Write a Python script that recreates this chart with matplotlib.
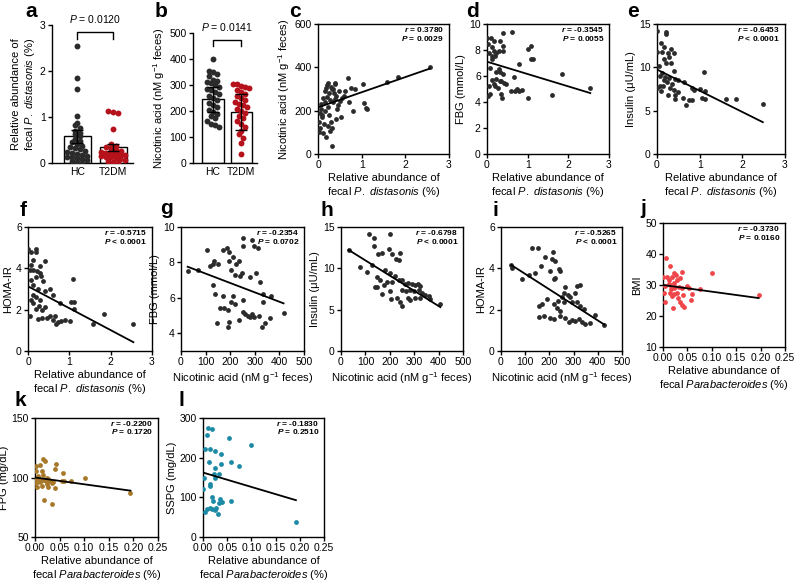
import numpy as np
import matplotlib
matplotlib.use('Agg')
import matplotlib.pyplot as plt

plt.rcParams['font.family'] = 'Liberation Sans'
plt.rcParams['mathtext.fontset'] = 'custom'
plt.rcParams['mathtext.rm'] = 'Liberation Sans'
plt.rcParams['mathtext.it'] = 'Liberation Sans:italic'
plt.rcParams['mathtext.bf'] = 'Liberation Sans:bold'
plt.rcParams['mathtext.bfit'] = 'Liberation Sans:italic:bold'

# ---------------- data ----------------
groups = ['HC', 'T2DM']

# a: relative abundance of P. distasonis (%)
a_hc = [2.55, 1.85, 1.60, 1.03, 0.87, 0.82, 0.76, 0.70, 0.66, 0.62, 0.58, 0.52,
        0.48, 0.45, 0.42, 0.38, 0.35, 0.32, 0.30, 0.27, 0.25, 0.22, 0.20, 0.18,
        0.16, 0.14, 0.12, 0.10, 0.08, 0.06, 0.04, 0.02, 0.01]
a_t2dm = [1.12, 1.10, 1.08, 0.75, 0.42, 0.38, 0.34, 0.30, 0.28, 0.26, 0.24, 0.22,
          0.21, 0.20, 0.19, 0.18, 0.17, 0.15, 0.14, 0.12, 0.10, 0.08, 0.06, 0.04,
          0.02, 0.01]
a_mean = [0.58, 0.34]
a_err = [0.14, 0.08]
a_p = '0.0120'

# b: nicotinic acid (nM g-1 feces)
b_hc = [400, 355, 350, 342, 335, 320, 316, 312, 306, 300, 292, 285, 280, 272,
        265, 258, 250, 242, 232, 225, 215, 205, 198, 190, 182, 172, 160, 150,
        145, 140]
b_t2dm = [305, 302, 298, 292, 288, 280, 272, 265, 258, 250, 242, 235, 228, 222,
          215, 208, 200, 192, 182, 172, 160, 150, 138, 125, 110, 95, 78, 35]
b_mean = [245, 197]
b_err = [47, 70]
b_p = '0.0141'

# c: nicotinic acid vs P. distasonis
c_pts = [(2.56, 403), (1.84, 354), (1.59, 334), (1.02, 322), (0.68, 352), (0.76, 303),
         (0.85, 300), (0.60, 269), (0.81, 200), (1.05, 235), (1.09, 211), (1.13, 208),
         (0.53, 169), (0.31, 38), (0.27, 108), (0.19, 77), (0.02, 150), (0.05, 120),
         (0.08, 210), (0.10, 180), (0.12, 260), (0.15, 290), (0.18, 305), (0.20, 320),
         (0.22, 330), (0.25, 280), (0.28, 250), (0.30, 310), (0.33, 300), (0.35, 240),
         (0.38, 330), (0.40, 325), (0.42, 270), (0.45, 225), (0.48, 290), (0.50, 245),
         (0.03, 100), (0.06, 230), (0.09, 170), (0.14, 140), (0.17, 200), (0.21, 265),
         (0.24, 215), (0.26, 180), (0.29, 150), (0.32, 120), (0.36, 280), (0.39, 255),
         (0.44, 210), (0.55, 260), (0.62, 290), (0.70, 240), (0.04, 190), (0.11, 95),
         (0.16, 240), (0.23, 130), (0.34, 300), (0.41, 160)]
c_fit = (215, 70)
c_stats = ('r = 0.3780', 'P = 0.0029')

# d: FBG vs P. distasonis
d_pts = [(0.62, 9.36), (0.39, 9.28), (0.00, 8.92), (0.09, 8.92), (0.16, 8.72), (0.31, 8.67),
         (0.02, 8.5), (0.13, 8.2), (0.39, 8.33), (1.02, 8.08), (1.09, 8.33), (0.18, 7.95),
         (0.23, 7.8), (0.29, 7.9), (0.39, 7.95), (0.04, 7.8), (0.12, 7.55), (0.20, 7.55),
         (1.12, 7.3), (1.08, 7.3), (0.13, 7.3), (0.78, 6.9), (0.08, 6.65), (0.29, 6.55),
         (0.23, 6.3), (0.31, 6.3), (0.39, 6.15), (0.66, 5.95), (1.85, 6.15), (0.12, 5.7),
         (0.23, 5.75), (0.31, 5.65), (0.35, 5.6), (0.41, 5.5), (0.47, 5.4), (0.16, 5.4),
         (0.04, 5.25), (0.20, 5.2), (0.27, 5.1), (2.54, 5.1), (0.59, 4.87), (0.70, 4.82),
         (0.78, 4.82), (0.86, 4.9), (0.74, 5.0), (0.35, 4.6), (0.08, 4.6), (1.60, 4.54),
         (1.02, 4.3), (0.37, 4.3), (0.02, 4.5)]
d_fit = (7.1, -0.95)
d_stats = ('r = -0.3545', 'P = 0.0055')

# e: insulin vs P. distasonis
e_pts = [(0.00, 14.2), (0.22, 14.1), (0.22, 13.8), (0.09, 12.8), (0.16, 12.3), (0.33, 12.1),
         (0.41, 11.7), (0.00, 11.8), (0.12, 11.8), (0.25, 11.6), (0.29, 11.2), (0.16, 11.0),
         (0.22, 10.5), (0.33, 10.5), (0.04, 10.2), (0.39, 9.6), (0.12, 9.3), (1.09, 9.5),
         (0.08, 9.0), (0.19, 8.9), (0.29, 8.8), (0.43, 8.65), (0.16, 8.5), (0.23, 8.3),
         (0.35, 8.1), (0.64, 8.3), (0.06, 7.9), (0.14, 7.8), (0.31, 7.6), (0.00, 7.6),
         (0.81, 7.6), (0.87, 7.4), (1.01, 7.5), (1.12, 7.3), (0.39, 7.4), (0.50, 7.2),
         (0.25, 6.85), (0.43, 6.85), (0.60, 6.5), (1.05, 6.5), (1.12, 6.3), (1.61, 6.35),
         (1.86, 6.4), (0.74, 6.2), (0.43, 6.3), (0.81, 6.2), (0.68, 5.6), (2.48, 5.8),
         (0.09, 7.3), (0.50, 8.5)]
e_fit = (9.75, -2.45)
e_stats = ('r = -0.6453', 'P < 0.0001')

# f: HOMA-IR vs P. distasonis
f_pts = [(0.00, 4.93), (0.20, 4.93), (0.20, 4.77), (0.08, 4.77), (0.41, 4.34), (0.12, 4.42),
         (0.30, 4.1), (0.04, 3.94), (0.12, 3.9), (0.22, 3.85), (0.28, 3.77), (0.19, 3.6),
         (0.32, 3.65), (0.08, 3.45), (1.08, 3.5), (0.12, 3.2), (0.24, 3.0), (0.41, 2.89),
         (0.61, 2.73), (0.12, 2.73), (0.20, 2.6), (0.08, 2.48), (0.28, 2.48), (0.12, 2.32),
         (1.05, 2.35), (1.11, 2.37), (0.77, 2.32), (0.27, 2.16), (0.41, 2.13), (0.34, 2.0),
         (0.20, 2.03), (1.11, 2.03), (0.04, 1.68), (0.23, 1.55), (0.35, 1.6), (0.45, 1.6),
         (0.54, 1.68), (0.65, 1.71), (0.61, 1.48), (0.73, 1.39), (0.67, 1.32), (0.81, 1.44),
         (0.89, 1.48), (1.01, 1.44), (1.84, 1.79), (1.58, 1.32), (2.55, 1.32), (0.08, 4.18),
         (0.36, 3.37), (0.53, 3.0)]
f_fit = (3.13, -1.06)
f_stats = ('r = -0.5715', 'P < 0.0001')

# g: FBG vs nicotinic acid
g_pts = [(27, 7.5), (70, 7.6), (105, 8.7), (119, 7.8), (129, 7.9), (136, 8.1), (150, 7.9),
         (169, 8.7), (187, 8.8), (197, 8.6), (211, 8.3), (250, 9.4), (287, 9.25), (254, 8.9),
         (296, 8.9), (315, 8.8), (197, 8.1), (225, 7.9), (235, 8.1), (204, 7.6), (218, 7.3),
         (248, 7.4), (240, 7.25), (282, 7.2), (303, 7.4), (320, 6.9), (129, 6.7), (140, 6.2),
         (169, 6.1), (211, 6.1), (254, 5.9), (332, 6.2), (367, 6.1), (332, 5.75), (159, 5.45),
         (176, 5.4), (190, 5.3), (204, 5.75), (218, 5.65), (254, 5.2), (261, 5.1), (272, 5.0),
         (282, 4.9), (289, 5.1), (296, 4.9), (318, 5.0), (148, 4.6), (197, 4.65), (235, 4.75),
         (190, 4.35), (329, 4.35), (343, 4.6), (360, 4.85), (417, 5.15)]
g_fit = (7.9, -0.0053)
g_stats = ('r = -0.2354', 'P = 0.0702')

# h: insulin vs nicotinic acid
h_pts = [(31, 12.2), (113, 14.2), (137, 13.7), (199, 14.1), (134, 12.7), (195, 12.3),
         (77, 10.2), (107, 9.5), (127, 10.4), (150, 11.7), (167, 11.8), (209, 11.7),
         (227, 11.1), (236, 11.05), (240, 11.85), (182, 9.8), (202, 9.4), (223, 9.1),
         (236, 8.6), (148, 9.0), (161, 8.6), (141, 7.8), (148, 7.75), (175, 8.0), (188, 8.3),
         (209, 8.4), (250, 8.6), (264, 8.15), (273, 8.2), (291, 8.15), (305, 8.0), (314, 8.15),
         (322, 7.9), (250, 7.4), (268, 7.2), (281, 7.4), (298, 7.2), (318, 7.4), (332, 7.0),
         (346, 6.8), (359, 6.7), (168, 6.9), (202, 7.2), (205, 6.3), (230, 6.4), (243, 5.9),
         (250, 5.5), (273, 6.4), (284, 6.2), (305, 6.4), (325, 6.4), (366, 6.3), (407, 5.7)]
h_fit = (12.8, -0.0184)
h_stats = ('r = -0.6798', 'P < 0.0001')

# i: HOMA-IR vs nicotinic acid
i_pts = [(43, 4.16), (45, 4.03), (87, 3.5), (114, 3.66), (142, 3.76), (128, 4.96), (152, 4.96),
         (165, 4.11), (183, 4.56), (215, 4.78), (211, 4.43), (225, 4.35), (204, 3.87), (238, 3.98),
         (245, 3.87), (225, 3.55), (220, 3.47), (266, 3.12), (314, 3.15), (325, 3.18), (259, 2.8),
         (276, 2.7), (287, 2.6), (307, 2.8), (252, 2.6), (190, 2.51), (156, 2.19), (169, 2.27),
         (218, 2.27), (234, 2.43), (262, 2.38), (293, 2.38), (314, 2.38), (328, 2.19), (342, 2.03),
         (156, 1.63), (176, 1.68), (204, 1.58), (218, 1.55), (245, 1.71), (266, 1.58), (280, 1.39),
         (293, 1.52), (307, 1.47), (321, 1.55), (335, 1.39), (348, 1.31), (369, 1.36), (390, 1.74),
         (427, 1.28), (245, 1.95), (231, 2.06)]
i_fit = (4.48, -0.0075)
i_stats = ('r = -0.5265', 'P < 0.0001')

# j: BMI vs Parabacteroides
j_pts = [(0.007, 38.6), (0.015, 36.0), (0.023, 34.0), (0.001, 32.7), (0.008, 32.7), (0.018, 32.5),
         (0.027, 33.2), (0.039, 34.3), (0.100, 34.0), (0.005, 29.7), (0.012, 30.3), (0.022, 30.8),
         (0.029, 31.6), (0.035, 32.2), (0.016, 28.6), (0.025, 29.2), (0.032, 29.5), (0.014, 27.5),
         (0.022, 27.1), (0.029, 27.5), (0.041, 26.8), (0.054, 28.9), (0.075, 28.6), (0.059, 27.1),
         (0.003, 27.5), (0.019, 26.4), (0.005, 24.6), (0.034, 24.6), (0.039, 23.7), (0.043, 23.0),
         (0.020, 22.6), (0.057, 25.1), (0.196, 26.8), (0.012, 31.6), (0.022, 28.9), (0.039, 28.9),
         (0.049, 29.7), (0.030, 25.7), (0.015, 30.0)]
j_fit = (30.0, -21.5)
j_stats = ('r = -0.3730', 'P = 0.0160')

# k: FPG vs Parabacteroides
k_pts = [(0.016, 115.3), (0.020, 113.9), (0.003, 109.7), (0.011, 110.6), (0.043, 111.7),
         (0.041, 107.5), (0.002, 105.6), (0.014, 105.6), (0.057, 103.6), (0.007, 101.4),
         (0.017, 102.2), (0.024, 100.0), (0.009, 98.6), (0.016, 97.8), (0.027, 98.6),
         (0.030, 96.7), (0.034, 95.0), (0.024, 94.4), (0.002, 95.0), (0.005, 92.2),
         (0.014, 93.1), (0.027, 92.2), (0.036, 95.8), (0.054, 96.7), (0.059, 96.7),
         (0.074, 97.2), (0.101, 100.0), (0.041, 91.1), (0.018, 81.1), (0.034, 77.8),
         (0.194, 86.7), (0.020, 97.8), (0.003, 98.6), (0.010, 95.8), (0.022, 96.7)]
k_fit = (100.0, -57.0)
k_stats = ('r = -0.2200', 'P = 0.1720')

# l: SSPG vs Parabacteroides
l_pts = [(0.010, 275), (0.019, 273), (0.008, 257), (0.053, 250), (0.099, 233), (0.005, 221),
         (0.014, 223), (0.025, 217), (0.037, 210), (0.012, 190), (0.037, 183), (0.058, 188),
         (0.074, 178), (0.025, 173), (0.034, 160), (0.022, 158), (0.003, 150), (0.025, 148),
         (0.014, 133), (0.015, 129), (0.019, 102), (0.021, 92), (0.036, 96), (0.039, 89),
         (0.034, 85), (0.058, 92), (0.008, 71), (0.014, 73), (0.019, 71), (0.025, 67),
         (0.032, 58), (0.027, 73), (0.192, 39), (0.005, 63), (0.001, 121)]
l_fit = (162.5, -363.0)
l_stats = ('r = -0.1830', 'P = 0.2510')

# ---------------- style ----------------
W, H = 800, 584
BLACK = '#2b2b2b'
RED = '#b5121b'
J_COLOR = '#f0464a'
K_COLOR = '#a8782a'
L_COLOR = '#1c8aa5'

XL_PD = 'Relative abundance of\nfecal $\\mathit{P.\\ distasonis}$ (%)'
XL_NA = 'Nicotinic acid (nM g$^{-1}$ feces)'
XL_PB = 'Relative abundance of\nfecal $\\mathit{Parabacteroides}$ (%)'

fig = plt.figure(figsize=(W / 100, H / 100), dpi=100)


def px_axes(left, top, right, bottom):
    return fig.add_axes([left / W, 1 - bottom / H, (right - left) / W, (bottom - top) / H])


def style_axes(ax, box=True):
    for side in ['left', 'bottom', 'top', 'right']:
        ax.spines[side].set_linewidth(1.0)
        ax.spines[side].set_color('black')
    if not box:
        ax.spines['top'].set_visible(False)
        ax.spines['right'].set_visible(False)
    ax.tick_params(direction='out', length=3, width=1.0, labelsize=7.5, pad=1.5)


def letter(txt, x, y):
    fig.text(x / W, 1 - y / H, txt, fontsize=15, fontweight='bold', va='baseline', ha='left')


def jitter(vals, step, spacing, limit):
    # simple swarm: spread points sharing a value bin across the bar
    vals = np.asarray(vals, dtype=float)
    bins = np.round(vals / step).astype(int)
    offs = np.zeros(len(vals))
    for b in np.unique(bins):
        idx = np.where(bins == b)[0]
        k = len(idx)
        sp = min(spacing, 2 * limit / max(k - 1, 1))
        offs[idx] = (np.arange(k) - (k - 1) / 2) * sp
    return offs


def bar_panel(ax, hc, t2, means, errs, pval, ylim, yticks, ylabel, step):
    xs = np.arange(len(groups))
    ax.bar(xs, means, width=0.75, color='white', edgecolor='black', linewidth=1.0, zorder=1)
    ax.errorbar(xs, means, yerr=errs, fmt='none', ecolor='black', elinewidth=1.0,
                capsize=4, capthick=1.0, zorder=4)
    for x0, vals, col in [(0, hc, BLACK), (1, t2, RED)]:
        offs = jitter(vals, step, 0.14, 0.33)
        ax.scatter(x0 + offs, vals, s=18, color=col, linewidths=0, zorder=3)
    top = ylim[1]
    y1 = top * 0.95
    y0 = top * 0.90
    ax.plot([0, 0, 1, 1], [y0, y1, y1, y0], color='black', lw=1.0, clip_on=False)
    ax.text(0.5, top * 1.0, '$\\mathit{P}$ = ' + pval, ha='center', va='bottom', fontsize=7.5)
    ax.set_ylim(*ylim)
    ax.set_yticks(yticks)
    ax.set_xlim(-0.7, 1.55)
    ax.set_xticks(xs)
    ax.set_xticklabels(groups, fontsize=8.5)
    style_axes(ax, box=False)
    ax.tick_params(axis='x', length=0, pad=3)
    ax.set_ylabel(ylabel, fontsize=8, labelpad=2)


def scatter_panel(ax, pts, fit, stats, color, xlim, xticks, ylim, yticks, xlabel, ylabel,
                  xfmt=None):
    pts = np.array(pts)
    ax.scatter(pts[:, 0], pts[:, 1], s=12, color=color, linewidths=0, zorder=3)
    xs = np.array([pts[:, 0].min(), pts[:, 0].max()])
    ax.plot(xs, fit[0] + fit[1] * xs, color='black', lw=1.3, zorder=4)
    r_txt = stats[0].replace('r =', '$\\mathbfit{r}$ =')
    p_txt = stats[1].replace('P ', '$\\mathbfit{P}$ ')
    ax.text(0.96, 0.955, r_txt, transform=ax.transAxes, ha='right', va='center',
            fontsize=6, fontweight='bold')
    ax.text(0.96, 0.885, p_txt, transform=ax.transAxes, ha='right', va='center',
            fontsize=6, fontweight='bold')
    ax.set_xlim(*xlim)
    ax.set_xticks(xticks)
    if xfmt:
        ax.set_xticklabels([xfmt.format(t) for t in xticks])
    ax.set_ylim(*ylim)
    ax.set_yticks(yticks)
    style_axes(ax, box=True)
    ax.set_xlabel(xlabel, fontsize=8, labelpad=2)
    ax.set_ylabel(ylabel, fontsize=8, labelpad=2)


# ---------------- panels ----------------
ax = px_axes(52, 25, 133, 163)
bar_panel(ax, a_hc, a_t2dm, a_mean, a_err, a_p, (0, 3), [0, 1, 2, 3], XL_PD, 0.1)
letter('a', 25, 17)

ax = px_axes(193, 33, 257, 163)
bar_panel(ax, b_hc, b_t2dm, b_mean, b_err, b_p, (0, 500), range(0, 501, 100), XL_NA, 25)
letter('b', 155, 17)

pd_x = dict(xlim=(0, 3), xticks=[0, 1, 2, 3], xlabel=XL_PD)
na_x = dict(xlim=(0, 500), xticks=[0, 100, 200, 300, 400, 500], xlabel=XL_NA)
pb_x = dict(xlim=(0, 0.25), xticks=[0, 0.05, 0.10, 0.15, 0.20, 0.25], xlabel=XL_PB,
            xfmt='{:.2f}')

ax = px_axes(318, 24, 449, 154)
scatter_panel(ax, c_pts, c_fit, c_stats, BLACK, ylim=(0, 600), yticks=[0, 200, 400, 600],
              ylabel=XL_NA, **pd_x)
letter('c', 289, 17)

ax = px_axes(487, 24, 609, 154)
scatter_panel(ax, d_pts, d_fit, d_stats, BLACK, ylim=(0, 10), yticks=range(0, 11, 2),
              ylabel='FBG (mmol/L)', **pd_x)
letter('d', 466, 17)

ax = px_axes(657, 24, 785, 154)
scatter_panel(ax, e_pts, e_fit, e_stats, BLACK, ylim=(0, 15), yticks=[0, 5, 10, 15],
              ylabel='Insulin (μU/mL)', **pd_x)
letter('e', 627, 17)

ax = px_axes(28, 227, 152, 351)
scatter_panel(ax, f_pts, f_fit, f_stats, BLACK, ylim=(0, 6), yticks=[0, 2, 4, 6],
              ylabel='HOMA-IR', **pd_x)
letter('f', 20, 216)

ax = px_axes(181, 227, 304, 351)
scatter_panel(ax, g_pts, g_fit, g_stats, BLACK, ylim=(3, 10), yticks=[4, 6, 8, 10],
              ylabel='FBG (mmol/L)', **na_x)
letter('g', 160, 214)

ax = px_axes(341, 227, 463, 351)
scatter_panel(ax, h_pts, h_fit, h_stats, BLACK, ylim=(0, 15), yticks=[0, 5, 10, 15],
              ylabel='Insulin (μU/mL)', **na_x)
letter('h', 320, 216)

ax = px_axes(501, 227, 622, 351)
scatter_panel(ax, i_pts, i_fit, i_stats, BLACK, ylim=(0, 6), yticks=[0, 2, 4, 6],
              ylabel='HOMA-IR', **na_x)
letter('i', 493, 216)

ax = px_axes(663, 223, 785, 347)
scatter_panel(ax, j_pts, j_fit, j_stats, J_COLOR, ylim=(10, 50), yticks=range(10, 51, 10),
              ylabel='BMI', **pb_x)
letter('j', 640, 214)

ax = px_axes(35, 418, 158, 537)
scatter_panel(ax, k_pts, k_fit, k_stats, K_COLOR, ylim=(50, 150), yticks=[50, 100, 150],
              ylabel='FPG (mg/dL)', **pb_x)
letter('k', 15, 406)

ax = px_axes(203, 418, 324, 537)
scatter_panel(ax, l_pts, l_fit, l_stats, L_COLOR, ylim=(0, 300), yticks=[0, 100, 200, 300],
              ylabel='SSPG (mg/dL)', **pb_x)
letter('l', 178, 406)

fig.savefig('out.png', dpi=100)
